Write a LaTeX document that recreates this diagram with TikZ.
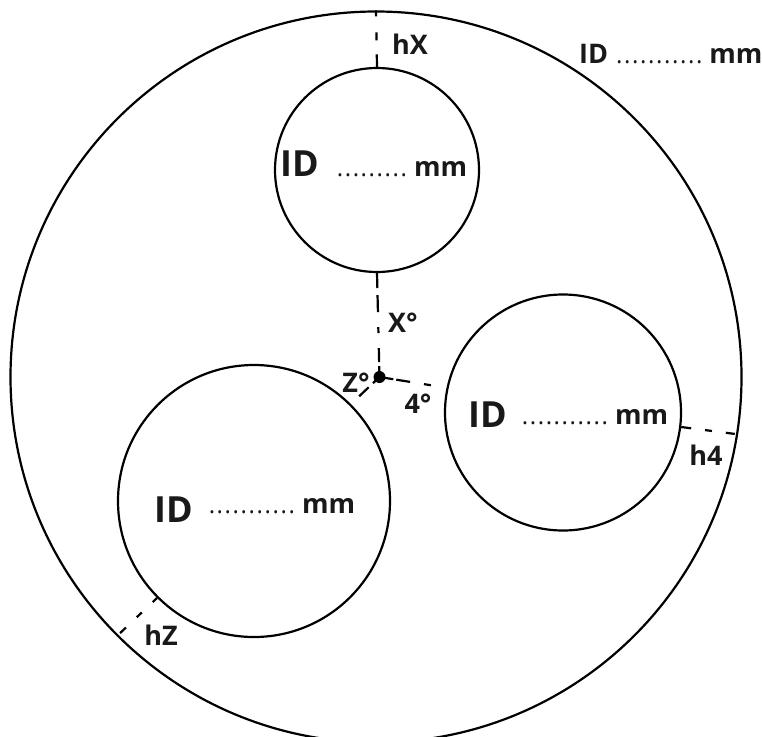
\documentclass[tikz,border=0pt]{standalone}
\usepackage{fontspec}
\setmainfont{Open Sans}
\newcommand{\idlabel}[7]{{\fontsize{#1}{#1}\selectfont\bfseries ID}\hspace{#2pt}\raisebox{#7pt}{{\fontsize{#3}{#3}\selectfont\addfontfeature{LetterSpace=6.7}#4}\hspace{#5pt}{\fontsize{#6}{#6}\selectfont\bfseries mm}}}
\tikzset{
  ring/.style={circle,draw=black,line width=2.2pt,inner sep=0pt,fill=none},
  gauge/.style={draw=black,line width=2.2pt},
  lab/.style={font=\fontsize{27}{27}\selectfont\bfseries,text=black!90,inner sep=0pt,anchor=base},
  idl/.style={text=black!90,inner sep=0pt,anchor=base west}
}
\begin{document}
\begin{tikzpicture}[x=1pt,y=-1pt]
\useasboundingbox (0,0) rectangle (762,736);
\clip (0,0) rectangle (762,736);
\node[ring,minimum size=731pt] (outer) at (376,377) {};
\node[ring,minimum size=204pt] (top) at (377,170) {};
\node[ring,minimum size=236pt] (right) at (563,412.5) {};
\node[ring,minimum size=272pt] (left) at (254,501) {};
\node[circle,fill=black,inner sep=0pt,minimum size=12pt] (hub) at (379.5,377) {};
\draw[gauge,dash pattern=on 6pt off 16pt on 8pt off 14pt on 13pt] (outer.north) -- (top.north);
\draw[gauge,dash pattern=on 15pt off 7pt on 17pt off 15pt on 6pt off 15pt on 14pt off 4pt on 15pt] (top.south) -- (hub.center);
\draw[gauge,dash pattern=on 14pt off 3pt on 14pt off 14pt on 7pt off 20pt] (hub.center) -- (right.168.3);
\draw[gauge,dash pattern=on 9pt off 6pt on 13pt off 30pt] (hub.center) -- (left.45);
\draw[gauge,dash pattern=on 10pt off 14pt on 7pt off 14pt on 9pt] (right.-7) -- (outer.-9.3);
\draw[gauge,dash pattern=on 6pt off 15pt on 7pt off 15pt on 8pt] (left.225) -- (outer.225);
\node[idl] (idt) at (280,176) {\idlabel{36}{18}{24}{.........}{7}{27}{0}};
\node[idl] (ido) at (579,63) {\idlabel{27}{8}{24}{...........}{7}{27}{0}};
\node[idl] (idr) at (468,427) {\idlabel{36}{15}{24}{...........}{7}{27}{3}};
\node[idl] (idl) at (154,522) {\idlabel{36}{16}{24}{...........}{7}{27}{9}};
\node[lab] (hx) at (410,54) {hX};
\node[lab] (xd) at (403,332) {X°};
\node[lab] (zd) at (356,392) {Z°};
\node[lab] (fd) at (418,413) {4°};
\node[lab] (h4) at (706,465) {h4};
\node[lab] (hz) at (161,645) {hZ};
\end{tikzpicture}
\end{document}
